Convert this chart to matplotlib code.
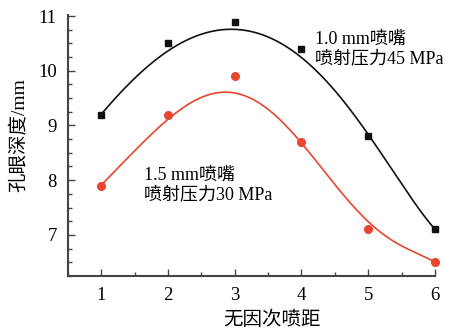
import numpy as np
import matplotlib
matplotlib.use("Agg")
import matplotlib.pyplot as plt
from matplotlib.ticker import MultipleLocator

# measured points
x = [1, 2, 3, 4, 5, 6]
depth_10mm = [9.2, 10.5, 10.9, 10.4, 8.8, 7.1]
depth_15mm = [7.9, 9.2, 9.9, 8.7, 7.1, 6.5]

# fitted curves
curve_x = [1.0, 1.5, 2.0, 2.5, 2.83, 3.0, 3.5, 4.0, 4.5, 5.0, 5.5, 6.0]
curve_10mm = [9.21, 9.85, 10.38, 10.67, 10.75, 10.74, 10.62, 10.25, 9.65, 8.81, 7.95, 7.10]
curve_15mm = [7.91, 8.53, 9.12, 9.52, 9.61, 9.57, 9.30, 8.70, 7.90, 7.25, 6.80, 6.50]

label_10 = ["1.0 mm喷嘴", "喷射压力45 MPa"]
label_15 = ["1.5 mm喷嘴", "喷射压力30 MPa"]
xlabel = "无因次喷距"
ylabel = "孔眼深度/mm"

serif = ["Liberation Serif", "Noto Sans CJK SC"]

fig = plt.figure(figsize=(4.53, 3.32), dpi=100)
ax = fig.add_axes([0.150, 0.169, 0.810, 0.786])

xx = np.linspace(1, 6, 300)
c1 = np.polyfit(curve_x, curve_10mm, 6)
c2 = np.polyfit(curve_x, curve_15mm, 6)
ax.plot(xx, np.polyval(c1, xx), color="#111111", lw=1.2)
ax.plot(xx, np.polyval(c2, xx), color="#e8452f", lw=1.2)
ax.plot(x, depth_10mm, "s", color="#111111", ms=5, clip_on=False)
ax.plot(x, depth_15mm, "o", color="#e8452f", ms=5.5, clip_on=False)

ax.set_xlim(0.5, 6.0)
ax.set_ylim(6.25, 11.02)
ax.xaxis.set_major_locator(MultipleLocator(1))
ax.xaxis.set_minor_locator(MultipleLocator(0.5))
ax.yaxis.set_major_locator(MultipleLocator(1))
ax.yaxis.set_minor_locator(MultipleLocator(0.25))
ax.tick_params(which="both", direction="in", color="#444444", width=1.0)
ax.tick_params(which="major", length=5, labelsize=13.5, pad=8)
ax.tick_params(which="minor", length=3)
for s in ["top", "right"]:
    ax.spines[s].set_visible(False)
for s in ["left", "bottom"]:
    ax.spines[s].set_linewidth(1.5)
    ax.spines[s].set_color("#444444")
for lab in ax.get_xticklabels() + ax.get_yticklabels():
    lab.set_family(serif)

ax.set_xlabel(xlabel, family=serif, fontsize=14)
ax.set_ylabel(ylabel, family=serif, fontsize=14)
ax.xaxis.set_label_coords(0.556, -0.135)
ax.yaxis.set_label_coords(-0.11, 0.54)

ax.text(0.672, 0.94, label_10[0] + "\n" + label_10[1], transform=ax.transAxes,
        family=serif, fontsize=13, va="top", ha="left", linespacing=1.2)
ax.text(0.208, 0.42, label_15[0] + "\n" + label_15[1], transform=ax.transAxes,
        family=serif, fontsize=13, va="top", ha="left", linespacing=1.2)

fig.savefig("out.png", dpi=100)
